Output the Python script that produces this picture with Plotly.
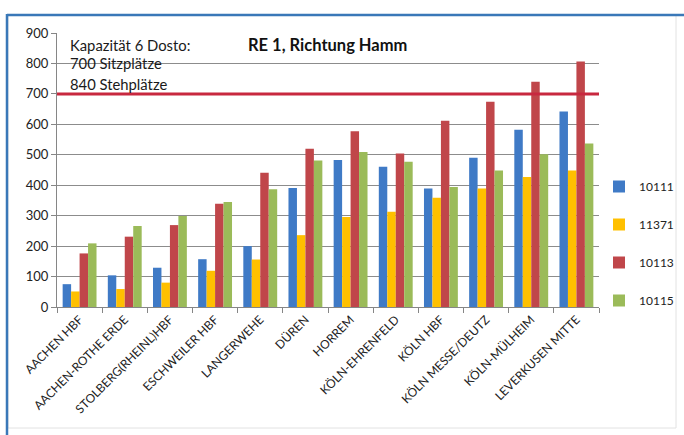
import plotly.graph_objects as go

stations = ["AACHEN HBF", "AACHEN-ROTHE ERDE", "STOLBERG(RHEINL)HBF", "ESCHWEILER HBF",
            "LANGERWEHE", "DÜREN", "HORREM", "KÖLN-EHRENFELD", "KÖLN HBF",
            "KÖLN MESSE/DEUTZ", "KÖLN-MÜLHEIM", "LEVERKUSEN MITTE"]
s10111 = [75, 104, 129, 157, 200, 391, 483, 461, 389, 490, 582, 642]
s11371 = [51, 59, 80, 119, 156, 236, 296, 313, 359, 389, 427, 448]
s10113 = [176, 231, 269, 339, 441, 520, 577, 504, 612, 674, 740, 806]
s10115 = [209, 266, 299, 345, 387, 481, 509, 477, 394, 448, 502, 537]
series_names = ["10111", "11371", "10113", "10115"]
series_colors = ["#3F7AC6", "#FFC000", "#C0464A", "#9BBB59"]
capacity = 700
yticks = [0, 100, 200, 300, 400, 500, 600, 700, 800, 900]

fig = go.Figure()
for i, (name, vals, col) in enumerate(zip(series_names, [s10111, s11371, s10113, s10115], series_colors)):
    fig.add_trace(go.Bar(x=stations, y=vals, name=name, marker_color=col,
                         marker_line_width=0, legendgroup=name))

fig.add_shape(type="line", xref="paper", yref="y", x0=0, x1=1, y0=capacity, y1=capacity,
              line=dict(color="#C8283F", width=3))

W, H = 684, 435
ml, mr, mt, mb = 57, 85, 33, 128
pw, ph = W - ml - mr, H - mt - mb

def px_x(p):
    return (p - ml) / pw

def px_y(p):
    return (H - mb - p) / ph

# outer frame
fig.add_shape(type="rect", xref="paper", yref="paper",
              x0=px_x(8), x1=px_x(676), y0=px_y(428), y1=px_y(15),
              line=dict(color="#E2E2E2", width=1), layer="below")
fig.add_shape(type="line", xref="paper", yref="paper",
              x0=px_x(7), x1=px_x(684), y0=px_y(15), y1=px_y(15),
              line=dict(color="#3A78B8", width=2.5))
fig.add_shape(type="line", xref="paper", yref="paper",
              x0=px_x(7), x1=px_x(7), y0=px_y(435), y1=px_y(14),
              line=dict(color="#3A78B8", width=2.5))

font_family = "Lato, 'Open Sans', sans-serif"
for txt, yy in [("Kapazität 6 Dosto:", 45), ("700 Sitzplätze", 63.5), ("840 Stehplätze", 83.5)]:
    fig.add_annotation(text=txt, xref="paper", yref="paper", x=px_x(68), y=px_y(yy),
                       xanchor="left", yanchor="middle", showarrow=False,
                       font=dict(size=14.8, color="#1a1a1a", family=font_family))
fig.add_annotation(text="<b>RE 1, Richtung Hamm</b>", xref="paper", yref="paper",
                   x=px_x(246), y=px_y(45), xanchor="left", yanchor="middle", showarrow=False,
                   font=dict(size=16.5, color="#111111", family=font_family))

fig.update_layout(
    width=W, height=H,
    margin=dict(l=ml, r=mr, t=mt, b=mb, autoexpand=False),
    paper_bgcolor="white", plot_bgcolor="white",
    barmode="group", bargap=0.25, bargroupgap=0,
    font=dict(family=font_family, color="#222222"),
    showlegend=True,
    legend=dict(x=px_x(599), y=px_y(172), xanchor="left", yanchor="top",
                font=dict(size=12, color="#222222"), tracegroupgap=19,
                itemwidth=30, bgcolor="rgba(0,0,0,0)"),
    xaxis=dict(tickangle=-45, tickfont=dict(size=12, color="#222222"),
               showline=True, linecolor="#868686", linewidth=1,
               ticks="outside", tickson="boundaries", ticklen=5, tickcolor="#868686",
               showgrid=False),
    yaxis=dict(range=[0, 900], tickvals=yticks, tickfont=dict(size=13, color="#222222"),
               showgrid=True, gridcolor="#8C8C8C", gridwidth=1,
               showline=True, linecolor="#868686", linewidth=1,
               ticks="outside", ticklen=5, tickcolor="#868686", zeroline=False),
)

fig.write_html("out.html")
